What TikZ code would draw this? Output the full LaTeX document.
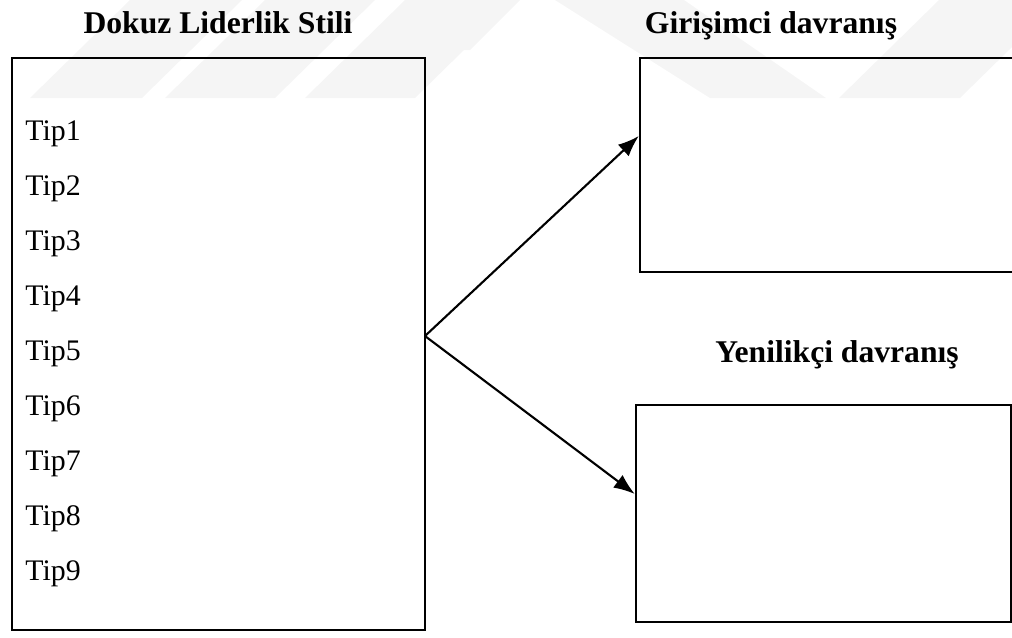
\documentclass[tikz,border=0pt]{standalone}
\usepackage{fontspec}
\setmainfont{Liberation Serif}
\usetikzlibrary{arrows.meta}

\begin{document}
\begin{tikzpicture}[x=0.02cm,y=-0.02cm,
  panel/.style={draw,line width=1.4pt,inner sep=0pt},
  heading/.style={anchor=base,inner sep=0pt,font=\bfseries\fontsize{18}{20}\selectfont},
  tiplabel/.style={anchor=base west,inner sep=0pt,font=\fontsize{17}{19}\selectfont},
  link/.style={line width=1.2pt,-{Latex[length=12pt,width=9pt]}}]
\useasboundingbox (0,0) rectangle (1012,637);
\clip (0,0) rectangle (1012,637);
% faint watermark bands
\begin{scope}[fill=black!4]
\fill (30,98) -- (142,98) -- (242,0) -- (130,0) -- cycle;
\fill (165,98) -- (275,98) -- (375,0) -- (265,0) -- cycle;
\fill (305,98) -- (415,98) -- (515,0) -- (405,0) -- cycle;
\fill (430,50) -- (470,50) -- (520,0) -- (480,0) -- cycle;
\fill (555,0) -- (684,0) -- (826,98) -- (710,98) -- cycle;
\fill (839,98) -- (960,98) -- (1060,0) -- (939,0) -- cycle;
\end{scope}
\node[heading] (lefthead) at (218,33) {Dokuz Liderlik Stili};
\node[heading] (tophead) at (771,33) {Girişimci davranış};
\node[heading] (bothead) at (837,362) {Yenilikçi davranış};
\node[panel,minimum width=8.26cm,minimum height=11.44cm] (styles) at (218.5,344) {};
\node[panel,minimum width=7.6cm,minimum height=4.28cm] (entre) at (830,165) {};
\node[panel,minimum width=7.5cm,minimum height=4.34cm] (innov) at (823.5,513.5) {};
\foreach \i in {1,...,9}
  \node[tiplabel] (tip\i) at (25,140+55*\i-55) {Tip\i};
\coordinate (fork) at (425,336);
\draw[link] (fork) -- ([yshift=0.58cm]entre.west);
\draw[link] (fork) -- ([yshift=0.39cm]innov.west);
\end{tikzpicture}
\end{document}
